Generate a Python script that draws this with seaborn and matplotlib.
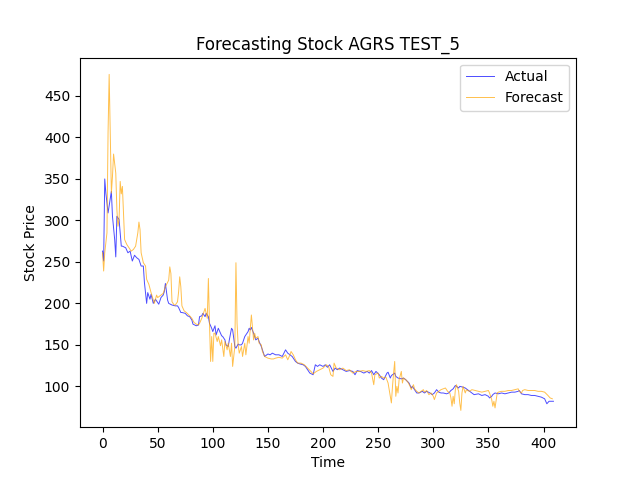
import matplotlib
matplotlib.use("Agg")
import matplotlib.pyplot as plt
import seaborn as sns
import pandas as pd

actual_t = [0, 1, 2, 3, 5, 7, 8, 9, 11, 12, 13, 15, 17, 18, 21, 23, 25, 27, 29, 31, 33, 35, 37, 38, 40, 41, 43, 44, 46, 48,
            51, 53, 55, 56, 57, 59, 60, 63, 66, 68, 69, 71, 72, 75, 77, 79, 81, 82, 85, 87, 88, 90, 91, 93, 94, 96, 97, 99,
            100, 102, 103, 105, 106, 108, 109, 111, 112, 114, 115, 117, 118, 119, 120, 121, 123, 124, 126, 127, 129, 130,
            132, 133, 134, 135, 137, 138, 139, 141, 142, 144, 145, 147, 148, 150, 152, 154, 157, 160, 163, 166, 168, 170,
            172, 175, 177, 179, 182, 184, 186, 188, 191, 193, 195, 197, 200, 202, 204, 206, 209, 211, 213, 215, 218, 221,
            224, 227, 229, 231, 234, 237, 240, 242, 244, 246, 248, 251, 253, 255, 258, 259, 261, 262, 265, 266, 268, 271,
            273, 275, 278, 280, 281, 284, 285, 287, 290, 292, 294, 297, 299, 301, 303, 305, 307, 309, 312, 314, 316, 318,
            320, 321, 323, 324, 327, 329, 331, 333, 335, 337, 341, 344, 347, 350, 351, 353, 354, 356, 359, 362, 365, 368,
            371, 374, 377, 378, 380, 383, 386, 389, 392, 395, 398, 401, 403, 405, 409]
actual_v = [263, 251, 350, 333, 309, 326, 335, 305, 277, 256, 305, 301, 269, 269, 267, 261, 263, 251, 258, 255, 253, 245, 245, 225, 200, 213, 205, 211, 200, 205,
            199, 207, 210, 214, 224, 204, 200, 198, 197, 197, 195, 189, 189, 188, 185, 184, 180, 175, 173, 174, 184, 185, 188, 184, 188, 184, 176, 170,
            166, 173, 162, 170, 167, 161, 160, 156, 150, 148, 156, 170, 168, 158, 148, 146, 151, 150, 150, 152, 160, 162,
            166, 170, 168, 171, 164, 160, 156, 158, 154, 148, 144, 136, 137, 139, 138, 140, 138, 138, 136, 144, 140, 138,
            136, 130, 128, 127, 126, 124, 120, 116, 114, 126, 124, 126, 124, 126, 123, 126, 118, 122, 120, 122, 120, 118,
            119, 118, 114, 119, 118, 116, 118, 116, 119, 114, 118, 114, 110, 108, 116, 117, 110, 113, 116, 112, 110, 109,
            110, 108, 104, 98, 100, 94, 92, 92, 94, 92, 94, 92, 90, 92, 96, 93, 92, 92, 91, 92, 95, 97,
            101, 100, 98, 100, 99, 98, 96, 94, 92, 90, 91, 89, 90, 88, 86, 88, 90, 92, 91, 92, 91, 92,
            93, 93, 94, 95, 91, 90, 90, 89, 89, 88, 87, 85, 79, 82, 82]

forecast_t = [0, 1, 2, 4, 5, 6, 7, 8, 9, 10, 12, 13, 14, 15, 16, 17, 18, 19, 20, 22, 24, 26, 28, 30, 32, 33, 34, 35, 37, 39,
              40, 42, 44, 47, 49, 50, 53, 55, 57, 60, 61, 62, 63, 65, 66, 68, 69, 70, 71, 72, 74, 76, 79, 81, 83, 85, 87,
              88, 90, 92, 93, 95, 96, 97, 98, 99, 100, 101, 102, 104, 105, 107, 108, 110, 111, 113, 114, 116, 117, 118,
              120, 121, 122, 123, 124, 126, 127, 129, 130, 132, 133, 134, 135, 137, 138, 139, 141, 142, 144, 145, 147,
              150, 153, 155, 157, 160, 163, 166, 168, 170, 171, 173, 175, 177, 180, 183, 186, 189, 191, 194, 197, 200,
              203, 205, 207, 209, 210, 212, 215, 218, 221, 224, 227, 230, 233, 236, 239, 242, 244, 246, 247, 250, 251,
              253, 255, 257, 259, 260, 262, 263, 264, 265, 266, 267, 268, 269, 271, 272, 273, 275, 277, 279, 280, 282,
              283, 285, 287, 289, 291, 292, 294, 296, 298, 300, 301, 303, 305, 307, 309, 311, 313, 315, 316, 317, 318,
              319, 320, 321, 323, 324, 325, 326, 327, 329, 330, 331, 333, 335, 338, 341, 344, 347, 350, 351, 353, 354,
              355, 356, 358, 359, 362, 365, 368, 371, 374, 377, 378, 380, 381, 383, 386, 389, 392, 395, 398, 401, 404,
              406, 408]
forecast_v = [261, 239, 261, 285, 406, 476, 406, 333, 353, 380, 357, 313, 293, 301, 347, 332, 341, 309, 277, 271, 267, 263, 265, 269, 285, 298, 289, 261, 249, 245,
              229, 223, 213, 200, 210, 207, 210, 212, 220, 228, 244, 236, 202, 198, 198, 202, 214, 232, 220, 197, 191, 189, 185, 182, 177, 175, 174,
              176, 182, 190, 194, 182, 230, 176, 130, 160, 130, 164, 164, 154, 160, 149, 156, 136, 154, 144, 152, 136, 152, 124,
              148, 249, 176, 150, 140, 148, 136, 152, 138, 160, 152, 170, 186, 156, 164, 158, 160, 152, 150, 142, 136,
              134, 133, 133, 134, 135, 134, 138, 132, 138, 142, 138, 132, 128, 128, 126, 122, 118, 115, 118, 120, 122,
              126, 124, 114, 112, 128, 122, 120, 122, 119, 120, 116, 118, 118, 119, 118, 119, 116, 102, 114, 116, 110,
              112, 110, 111, 104, 96, 80, 100, 116, 130, 88, 100, 92, 108, 118, 104, 110, 108, 105, 100, 96, 102,
              97, 94, 92, 94, 96, 93, 95, 90, 92, 88, 84, 92, 94, 96, 97, 98, 94, 92, 86, 76, 88,
              79, 96, 102, 94, 80, 71, 92, 100, 92, 96, 95, 94, 96, 95, 94, 93, 94, 95, 92, 84, 76,
              82, 74, 92, 93, 94, 94, 95, 95, 96, 97, 94, 92, 95, 96, 95, 95, 95, 94, 94, 93, 89,
              86, 85]

actual_df = pd.DataFrame({"Time": actual_t, "Price": actual_v})
forecast_df = pd.DataFrame({"Time": forecast_t, "Price": forecast_v})

fig, ax = plt.subplots(figsize=(6.4, 4.8), dpi=100)
sns.lineplot(data=actual_df, x="Time", y="Price", ax=ax, color="blue", alpha=0.7, linewidth=0.7, label="Actual")
sns.lineplot(data=forecast_df, x="Time", y="Price", ax=ax, color="orange", alpha=0.7, linewidth=0.7, label="Forecast")
ax.set_title("Forecasting Stock AGRS TEST_5")
ax.set_xlabel("Time")
ax.set_ylabel("Stock Price")
ax.legend(loc="upper right")
fig.savefig("out.png", dpi=100)
